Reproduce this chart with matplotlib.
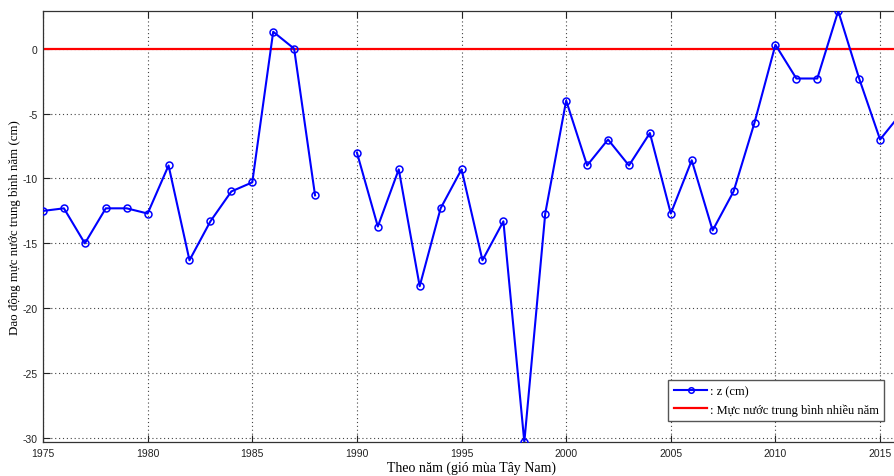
import numpy as np
import matplotlib
matplotlib.use("Agg")
import matplotlib.pyplot as plt

# Annual mean water-level anomaly (cm), southwest monsoon season
years = list(range(1975, 2017))
z_cm = [-12.5, -12.3, -15.0, -12.3, -12.3, -12.7, -9.0, -16.3, -13.3, -11.0,
        -10.3, 1.3, 0.0, -11.3, np.nan, -8.0, -13.7, -9.3, -18.3, -12.3,
        -9.3, -16.3, -13.3, -30.3, -12.7, -4.0, -9.0, -7.0, -9.0, -6.5,
        -12.7, -8.6, -14.0, -11.0, -5.7, 0.3, -2.3, -2.3, 2.9, -2.3,
        -7.0, -5.0]
mean_level = 0.0

x_ticks = [1975, 1980, 1985, 1990, 1995, 2000, 2005, 2010, 2015]
y_ticks = [-30, -25, -20, -15, -10, -5, 0]

SERIF = ["Liberation Serif", "DejaVu Serif"]
SANS = ["Liberation Sans", "DejaVu Sans"]

W, H = 894, 477
fig = plt.figure(figsize=(W / 100, H / 100), dpi=100)
fig.patch.set_facecolor("white")

# axes run a little past the right edge of the canvas
left, right, top, bottom = 43, 901, 12, 443
ax = fig.add_axes([left / W, 1 - bottom / H, (right - left) / W, (bottom - top) / H])

ax.plot(years, z_cm, color="#0000ff", linewidth=1.5, marker="o", markersize=5,
        markerfacecolor="none", markeredgecolor="#0000ff", markeredgewidth=1.1,
        label=": z (cm)", zorder=3)
ax.axhline(mean_level, color="#ff0000", linewidth=1.6,
           label=": Mực nước trung bình nhiều năm", zorder=2)

ax.set_xlim(1975, 2016)
ax.set_ylim(np.nanmin(z_cm), np.nanmax(z_cm))
ax.set_xticks(x_ticks)
ax.set_yticks(y_ticks)
ax.set_xticklabels([str(t) for t in x_ticks], family=SANS, fontsize=7.5)
ax.set_yticklabels([str(t) for t in y_ticks], family=SANS, fontsize=7.5)
ax.tick_params(direction="in", length=5, width=0.8, top=True, right=True,
               colors="#222222", pad=4)

ax.grid(True, linestyle=(0, (1, 2.5)), color="#444444", linewidth=0.8)
for s in ax.spines.values():
    s.set_color("#333333")
    s.set_linewidth(0.9)

ax.set_xlabel("Theo năm (gió mùa Tây Nam)", family=SERIF, fontsize=10, labelpad=2)
ax.set_ylabel("Dao động mực nước trung bình năm (cm)", family=SERIF, fontsize=9.3,
              labelpad=1)

leg = ax.legend(loc="upper left", bbox_to_anchor=(668 / W, 1 - 381 / H),
                bbox_transform=fig.transFigure, borderaxespad=0,
                prop={"family": SERIF, "size": 9}, fancybox=False,
                framealpha=1, edgecolor="#555555", handlelength=2.7,
                handletextpad=0.2, labelspacing=0.45, borderpad=0.45,
                markerscale=0.8)
leg.get_frame().set_linewidth(1.0)

plt.savefig("out.png", dpi=100, facecolor=fig.get_facecolor())
